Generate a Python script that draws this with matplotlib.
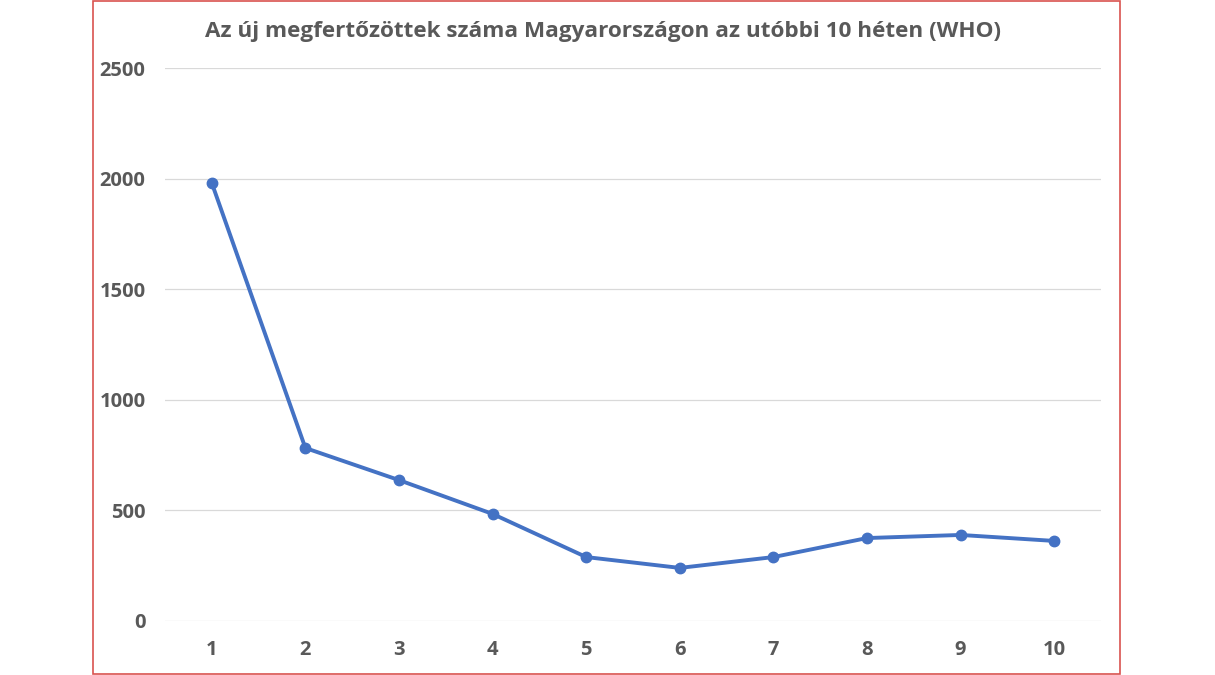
import matplotlib.pyplot as plt
from matplotlib.patches import Rectangle

weeks = [1, 2, 3, 4, 5, 6, 7, 8, 9, 10]
new_cases = [1980, 782, 637, 484, 289, 240, 289, 375, 389, 362]
y_ticks = [0, 500, 1000, 1500, 2000, 2500]

title = 'Az új megfertőzöttek száma Magyarországon az utóbbi 10 héten (WHO)'
text_color = '#595959'
line_color = '#4472C4'

plt.rcParams['font.family'] = ['Open Sans', 'DejaVu Sans']

fig = plt.figure(figsize=(12.15, 6.75), dpi=100)
fig.patch.set_facecolor('white')

# red frame around the chart area
fig.patches.append(Rectangle((93 / 1215, 1 / 675), 1027 / 1215, 673 / 675,
                             transform=fig.transFigure, fill=False,
                             edgecolor='#d9534f', linewidth=1.2))

ax = fig.add_axes([165 / 1215, 54 / 675, 936 / 1215, 553 / 675])
ax.plot(weeks, new_cases, color=line_color, linewidth=2.8,
        marker='o', markersize=7.5, zorder=3)

ax.set_xlim(0.5, 10.5)
ax.set_ylim(0, 2500)
ax.set_xticks(weeks)
ax.set_yticks(y_ticks)
ax.grid(True, axis='y', color='#d9d9d9', linewidth=0.9)
ax.set_axisbelow(True)
for side in ['top', 'right', 'left', 'bottom']:
    ax.spines[side].set_visible(False)
ax.tick_params(length=0, labelsize=14.5, colors=text_color)
ax.tick_params(axis='x', pad=14)
ax.tick_params(axis='y', pad=14)
for lbl in ax.get_xticklabels() + ax.get_yticklabels():
    lbl.set_fontweight('bold')

fig.text(603 / 1215, 1 - 31 / 675, title, ha='center', va='center',
         fontsize=16.2, fontweight='bold', color=text_color)

plt.savefig('out.png', dpi=100)
